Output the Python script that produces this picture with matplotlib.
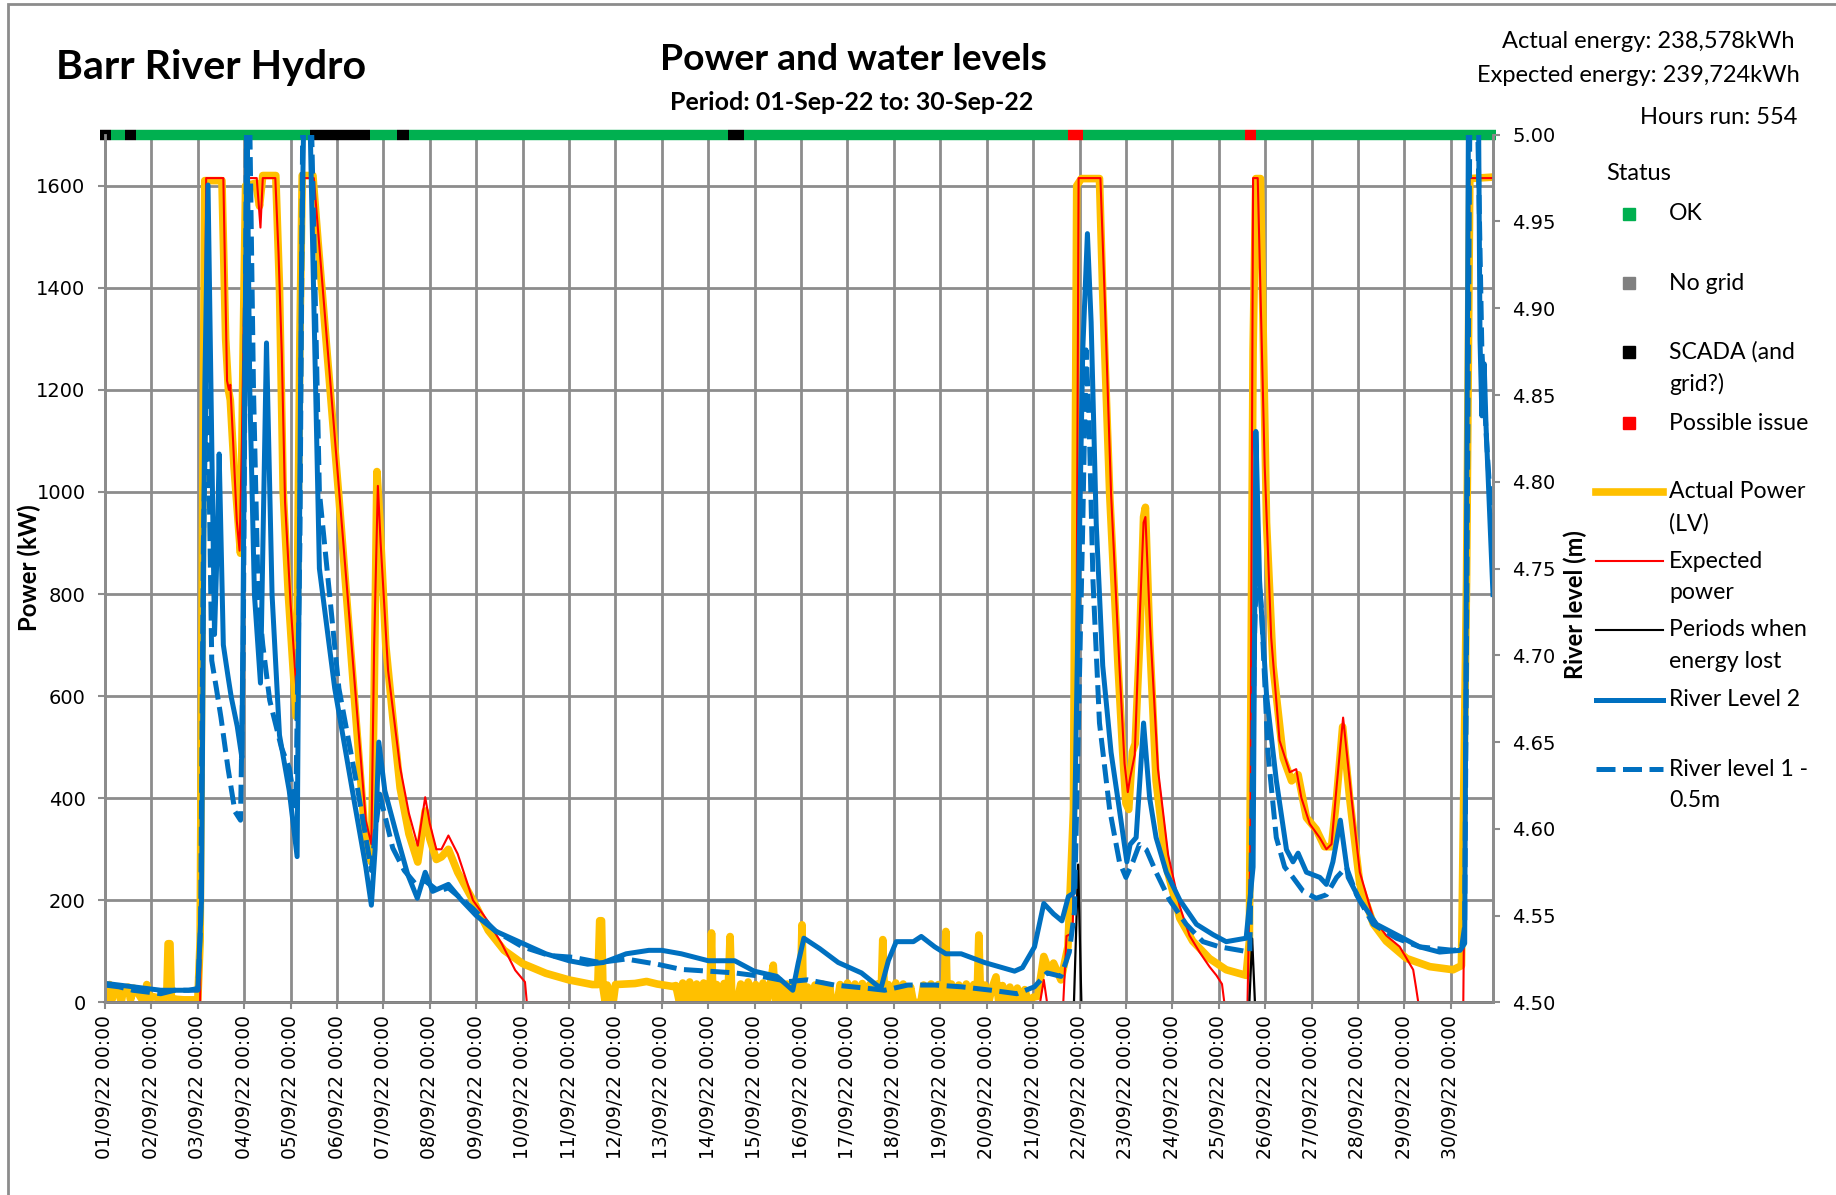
import numpy as np
import matplotlib
matplotlib.use('Agg')
import matplotlib.pyplot as plt
from matplotlib.lines import Line2D
from matplotlib.patches import Rectangle

# time axis: days since 01/09/22 00:00
day_labels = ['%02d/09/22 00:00' % d for d in range(1, 31)]
x_end = 29.91

# Actual power (LV), kW
t_act = [0.00, 0.05, 0.10, 0.15, 0.20, 0.28, 0.35, 0.40, 0.50, 0.55, 0.62, 0.70, 0.78, 0.85, 0.90, 0.95,
         1.00, 1.10, 1.20, 1.33, 1.36, 1.40, 1.43, 1.55, 1.70, 1.85, 2.00, 2.05, 2.10, 2.15, 2.52, 2.60,
         2.66, 2.70, 2.78, 2.92, 2.98, 3.03, 3.25, 3.33, 3.40, 3.68, 3.76, 3.84, 3.95, 4.12, 4.20, 4.25,
         4.48, 4.60, 5.04, 5.60, 5.74, 5.80, 5.86, 5.92, 6.05, 6.20, 6.36, 6.55, 6.74, 6.90, 7.00, 7.14,
         7.25, 7.40, 7.60, 7.93, 8.26, 8.60, 9.00, 9.50, 10.00, 10.50, 10.62, 10.66, 10.70, 10.73, 10.78,
         10.82, 10.95, 11.00, 11.42, 11.67, 11.90, 12.25,
         12.30, 12.38, 12.45, 12.52, 12.60, 12.68, 12.75, 12.83, 12.90, 12.98, 13.04, 13.07, 13.10, 13.18,
         13.26, 13.34, 13.42, 13.47, 13.51, 13.62, 13.70, 13.78, 13.86, 13.94, 14.02, 14.10, 14.18, 14.26,
         14.34, 14.40, 14.45, 14.54, 14.62, 14.70, 14.78, 14.86, 14.94, 14.99, 15.02, 15.05, 15.14, 15.22,
         15.30, 15.38, 15.46, 15.54, 15.62, 15.66, 15.78, 15.84, 15.92, 16.00, 16.08, 16.16, 16.24, 16.32,
         16.40, 16.48, 16.56, 16.64, 16.72, 16.76, 16.80, 16.88, 16.96, 17.04, 17.12, 17.20, 17.28, 17.36,
         17.42, 17.58, 17.64, 17.72, 17.80, 17.88, 17.96, 18.04, 18.09, 18.12, 18.15, 18.24, 18.32, 18.40,
         18.48, 18.56, 18.64, 18.72, 18.79, 18.83, 18.87, 18.96, 19.04, 19.12, 19.20, 19.26, 19.34, 19.42,
         19.50, 19.58, 19.66, 19.74, 19.82, 19.90,
         20.00, 20.10, 20.23, 20.35, 20.44, 20.60, 20.75, 20.87, 20.94, 21.04, 21.43, 21.50, 21.65, 21.83,
         21.93, 22.00, 22.06, 22.14, 22.20, 22.30, 22.38, 22.42, 22.51, 22.65, 22.87, 23.16, 23.44, 23.80,
         24.16, 24.59, 24.66, 24.74, 24.80, 24.90, 25.03, 25.17, 25.39, 25.57, 25.71, 25.89, 26.10, 26.28,
         26.43, 26.54, 26.67, 26.82, 27.04, 27.33, 27.61, 28.05, 28.55, 29.05, 29.23, 29.34, 29.41, 29.91]
p_act = [30, 10, 35, 5, 30, 25, 0, 28, 30, 5, 28, 20, 8, 0, 35, 5,
         12, 10, 8, 10, 115, 115, 8, 6, 5, 5, 5, 120, 900, 1610, 1610, 1300,
         1200, 1180, 1050, 880, 1300, 1600, 1605, 1560, 1620, 1620, 1400, 1000, 800, 560, 1300, 1620,
         1620, 1480, 990, 330, 275, 600, 1040, 950, 700, 560, 420, 330, 275, 375, 320, 280,
         285, 300, 255, 200, 141, 102, 76, 57, 44, 35, 35, 160, 160, 30, 0,
         34, 0, 35, 37, 41, 36, 31,
         33, 0, 38, 0, 40, 0, 36, 0, 38, 0, 30, 136, 0, 35,
         0, 37, 0, 129, 0, 0, 36, 0, 40, 0, 35, 0, 38, 0,
         36, 73, 0, 34, 0, 36, 0, 35, 0, 40, 152, 0, 30, 0,
         34, 0, 36, 0, 30, 0, 0, 35, 0, 38, 0, 36, 0, 37,
         0, 35, 0, 36, 0, 123, 0, 35, 0, 38, 0, 36, 0, 30,
         0, 0, 34, 0, 36, 0, 35, 0, 30, 139, 0, 36, 0, 34,
         0, 36, 0, 35, 0, 132, 0, 34, 0, 30, 50, 0, 33, 0,
         30, 0, 28, 0, 25, 0,
         10, 12, 90, 60, 77, 44, 109, 378, 1600, 1614, 1614, 1389, 996, 659,
         491, 390, 378, 491, 507, 715, 951, 970, 715, 434, 266, 165, 120, 86,
         64, 53, 120, 1277, 1614, 1614, 940, 659, 479, 434, 446, 362, 339, 305,
         305, 401, 540, 401, 232, 154, 120, 86, 70, 64, 72, 827, 1614, 1617]

# Expected power, kW
t_exp = [0.00, 2.05, 2.12, 2.18, 2.55, 2.63, 2.67, 2.70, 2.76, 2.84, 2.90, 2.95, 3.00, 3.06, 3.27, 3.35,
         3.40, 3.67, 3.74, 3.81, 3.88, 4.00, 4.13, 4.18, 4.24, 4.28, 4.50, 5.04, 5.62, 5.74, 5.80, 5.88,
         5.94, 6.10, 6.36, 6.55, 6.74, 6.90, 7.00, 7.14, 7.25, 7.40, 7.60, 7.93, 8.26, 8.55, 8.84, 9.05,
         9.09, 20.15, 20.23, 20.30, 20.65, 20.72, 20.85, 20.92, 20.96, 20.98, 21.45, 21.54, 21.68, 21.86,
         21.97, 22.04, 22.09, 22.19, 22.28, 22.38, 22.42, 22.52, 22.69, 22.91, 23.16, 23.37, 23.59, 23.80,
         23.95, 24.07, 24.12, 24.62, 24.68, 24.74, 24.84, 24.99, 25.13, 25.31, 25.53, 25.67, 25.78, 25.96,
         26.18, 26.32, 26.43, 26.54, 26.68, 26.86, 27.04, 27.33, 27.61, 27.90, 28.19, 28.25, 28.30, 29.27,
         29.34, 29.40, 29.91]
p_exp = [0, 0, 800, 1615, 1615, 1218, 1200, 1210, 1100, 943, 885, 1100, 1400, 1615, 1615, 1518,
         1615, 1615, 1466, 1270, 980, 780, 605, 900, 1500, 1615, 1615, 1008, 356, 310, 700, 1012,
         900, 650, 460, 370, 307, 402, 350, 300, 300, 327, 291, 200, 158, 115, 63, 40,
         0, 0, 44, 0, 0, 130, 136, 400, 1200, 1615, 1615, 1389, 996, 659,
         468, 412, 440, 485, 715, 940, 951, 738, 457, 289, 188, 131, 98, 70,
         53, 36, 0, 0, 300, 1615, 1615, 1052, 715, 513, 451, 457, 401, 350,
         322, 300, 310, 423, 558, 401, 255, 165, 131, 109, 64, 30, 0, 0,
         700, 1615, 1615]

# Periods when energy lost, kW
t_lost = [0.00, 20.88, 20.97, 21.04, 24.66, 24.72, 24.78, x_end]
p_lost = [0, 0, 270, 0, 0, 125, 0, 0]

# River Level 2, m
t_rl2 = [0.00, 0.30, 0.60, 0.90, 1.20, 1.50, 1.80, 2.00, 2.08, 2.15, 2.22, 2.30, 2.36, 2.42, 2.46, 2.55,
         2.65, 2.72, 2.85, 2.95, 3.02, 3.06, 3.12, 3.22, 3.35, 3.48, 3.60, 3.76, 3.97, 4.14, 4.23, 4.28,
         4.42, 4.62, 4.95, 5.37, 5.62, 5.74, 5.82, 5.90, 6.03, 6.28, 6.52, 6.73, 6.90, 7.06, 7.40, 7.68,
         8.00, 8.42, 9.00, 9.50, 10.00, 10.40, 10.74, 11.23, 11.72, 12.00, 12.42, 13.00, 13.57, 13.99,
         14.48, 14.82, 14.94, 15.06, 15.40, 15.80, 16.30, 16.72, 16.88, 17.05, 17.42, 17.59, 17.88, 18.12,
         18.45, 18.95, 19.60, 19.77, 20.03, 20.23, 20.44, 20.62, 20.76, 20.87, 20.96, 21.07, 21.17, 21.25,
         21.36, 21.50, 21.68, 21.86, 22.02, 22.09, 22.22, 22.38, 22.51, 22.65, 22.87, 23.16, 23.52, 23.88,
         24.16, 24.59, 24.74, 24.80, 24.88, 25.03, 25.24, 25.46, 25.60, 25.71, 25.89, 26.18, 26.32, 26.46,
         26.62, 26.79, 27.04, 27.40, 27.83, 28.33, 28.76, 29.20, 29.30, 29.38, 29.60, 29.63, 29.67, 29.72,
         29.76, 29.91]
rl2 = [4.511, 4.510, 4.509, 4.508, 4.507, 4.507, 4.507, 4.508, 4.559, 4.853, 4.971, 4.824, 4.712, 4.765,
       4.816, 4.706, 4.688, 4.676, 4.659, 4.641, 4.882, 5.006, 4.853, 4.735, 4.684, 4.880, 4.735, 4.654,
       4.622, 4.584, 4.912, 5.006, 5.006, 4.750, 4.681, 4.616, 4.578, 4.556, 4.588, 4.650, 4.622, 4.597,
       4.574, 4.560, 4.575, 4.564, 4.568, 4.559, 4.550, 4.541, 4.534, 4.528, 4.524, 4.522, 4.523, 4.528,
       4.530, 4.530, 4.528, 4.524, 4.524, 4.518, 4.515, 4.507, 4.523, 4.537, 4.531, 4.523, 4.517, 4.508,
       4.524, 4.535, 4.535, 4.538, 4.532, 4.528, 4.528, 4.523, 4.518, 4.520, 4.532, 4.557, 4.551, 4.547,
       4.561, 4.563, 4.710, 4.876, 4.943, 4.892, 4.776, 4.694, 4.644, 4.611, 4.581, 4.591, 4.595, 4.661,
       4.618, 4.595, 4.575, 4.559, 4.545, 4.539, 4.535, 4.537, 4.578, 4.829, 4.743, 4.677, 4.628, 4.588,
       4.581, 4.586, 4.575, 4.572, 4.568, 4.581, 4.605, 4.572, 4.559, 4.545, 4.539, 4.532, 4.529, 4.530,
       4.534, 5.006, 5.006, 4.882, 4.838, 4.868, 4.832, 4.735]

# River level 1 - 0.5m, m
t_rl1 = [0.00, 0.30, 0.60, 0.90, 1.20, 1.50, 2.00, 2.06, 2.12, 2.20, 2.30, 2.40, 2.50, 2.65, 2.80, 2.92,
         2.98, 3.05, 3.12, 3.20, 3.30, 3.40, 3.55, 3.80, 3.97, 4.11, 4.20, 4.26, 4.45, 4.62, 5.04, 5.45,
         5.74, 5.82, 5.92, 6.20, 6.45, 6.70, 6.90, 7.19, 7.40, 7.93, 8.42, 9.00, 9.58, 10.08, 10.66, 11.23,
         11.90, 12.42, 13.00, 13.57, 14.15, 14.73, 15.14, 15.72, 16.47, 16.80, 17.30, 17.88, 18.45, 19.10,
         19.65, 20.03, 20.30, 20.60, 20.78, 20.89, 20.99, 21.07, 21.14, 21.20, 21.29, 21.43, 21.65, 21.86,
         22.00, 22.15, 22.29, 22.44, 22.65, 22.94, 23.30, 23.66, 24.02, 24.67, 24.77, 24.82, 24.92, 25.06,
         25.24, 25.42, 25.60, 25.82, 26.10, 26.32, 26.54, 26.75, 26.97, 27.33, 27.83, 28.33, 29.05, 29.23,
         29.30, 29.41, 29.58, 29.67, 29.77, 29.91]
rl1 = [4.510, 4.509, 4.507, 4.506, 4.505, 4.507, 4.507, 4.544, 4.765, 4.882, 4.697, 4.681, 4.664, 4.635,
       4.610, 4.605, 4.706, 5.006, 5.006, 4.853, 4.735, 4.706, 4.674, 4.647, 4.635, 4.612, 4.765, 5.006,
       5.006, 4.794, 4.681, 4.622, 4.576, 4.597, 4.620, 4.589, 4.576, 4.568, 4.570, 4.564, 4.566, 4.554,
       4.541, 4.532, 4.527, 4.526, 4.523, 4.525, 4.522, 4.519, 4.518, 4.517, 4.515, 4.512, 4.513, 4.510,
       4.508, 4.507, 4.510, 4.510, 4.509, 4.507, 4.505, 4.509, 4.517, 4.515, 4.529, 4.552, 4.677, 4.776,
       4.876, 4.842, 4.743, 4.661, 4.611, 4.581, 4.572, 4.581, 4.591, 4.588, 4.575, 4.559, 4.545, 4.535,
       4.532, 4.529, 4.710, 4.756, 4.727, 4.644, 4.595, 4.578, 4.572, 4.564, 4.560, 4.562, 4.572, 4.578,
       4.562, 4.545, 4.537, 4.532, 4.530, 4.531, 4.544, 5.006, 5.006, 4.876, 4.824, 4.765]

# status strip along the top
status_start = [-0.11, 0.12, 0.43, 0.67, 4.42, 5.71, 6.30, 6.56, 13.43, 13.76, 20.75, 21.08, 24.57, 24.81]
status_end = [0.12, 0.43, 0.67, 4.42, 5.71, 6.30, 6.56, 13.43, 13.76, 20.75, 21.08, 24.57, 24.81, 29.98]
status_code = ['SCADA', 'OK', 'SCADA', 'OK', 'SCADA', 'OK', 'SCADA', 'OK', 'SCADA', 'OK',
               'Possible issue', 'OK', 'Possible issue', 'OK']
status_colors = {'OK': '#00B050', 'No grid': '#808080', 'SCADA': '#000000', 'Possible issue': '#FF0000'}

W, H = 1836, 1195
def fx(px):
    return px / W
def fy(py):
    return 1 - py / H

TITLE_FONT = 'Lato'
grid_col = '#8c8c8c'
DASH = (3.8, 1.5)

fig = plt.figure(figsize=(W / 100, H / 100), dpi=100)
ax = fig.add_axes([fx(105), fy(1002.4), fx(1493 - 105), (1002.4 - 134.7) / H])
ax2 = ax.twinx()

ax.plot(t_act, p_act, color='#FFC000', lw=5.5, solid_joinstyle='round', zorder=2)
ax.plot(t_exp, p_exp, color='#FF0000', lw=1.5, zorder=3)
ax.plot(t_lost, p_lost, color='black', lw=1.6, zorder=4, clip_on=False)

# status strip (drawn at the top of the power axis)
order = sorted(range(len(status_code)), key=lambda i: status_code[i] != 'OK')
for i in order:
    ax.hlines(1700, status_start[i], status_end[i], colors=status_colors[status_code[i]],
              lw=7.5, zorder=6, clip_on=False)

ax2.plot(t_rl2, rl2, color='#0070C0', lw=3.6, solid_joinstyle='round')
ax2.plot(t_rl1, rl1, color='#0070C0', lw=3.6, dashes=DASH)

ax.set_xlim(0, x_end)
ax.set_ylim(0, 1700)
ax2.set_ylim(4.5, 5.0)
ax.set_xticks(range(30))
ax.set_xticklabels(day_labels, rotation=90, fontsize=13.5, va='top')
ax.set_yticks(range(0, 1700, 200))
ax2.set_yticks(np.arange(4.5, 5.001, 0.05))
ax2.set_yticklabels(['%.2f' % v for v in np.arange(4.5, 5.001, 0.05)])

ax.grid(True, color=grid_col, lw=2)
ax.set_axisbelow(True)
ax.tick_params(axis='x', length=5, width=1.5, color=grid_col, pad=4)
ax.tick_params(axis='y', length=5, width=1.5, color=grid_col, labelsize=14, pad=9)
ax2.tick_params(axis='y', length=5, width=1.5, color=grid_col, labelsize=14, pad=9)
for a in (ax, ax2):
    for s in a.spines.values():
        s.set_color(grid_col)
        s.set_linewidth(2)
    a.spines['top'].set_visible(False)

fig.text(fx(29), fy(568), 'Power (kW)', rotation=90, ha='center', va='center',
         fontsize=17.3, fontweight='bold', family=TITLE_FONT)
fig.text(fx(1575), fy(605), 'River level (m)', rotation=90, ha='center', va='center',
         fontsize=17, fontweight='bold', family=TITLE_FONT)

# titles
fig.text(fx(56), fy(68), 'Barr River Hydro', ha='left', va='center', fontsize=29.6,
         fontweight='bold', family=TITLE_FONT)
fig.text(fx(853), fy(60), 'Power and water levels', ha='center', va='center', fontsize=26.8,
         fontweight='bold', family=TITLE_FONT)
fig.text(fx(852), fy(103), 'Period: 01-Sep-22 to: 30-Sep-22', ha='center', va='center', fontsize=18,
         fontweight='bold', family=TITLE_FONT)
fig.text(fx(1794), fy(42), 'Actual energy: 238,578kWh', ha='right', va='center', fontsize=17,
         family=TITLE_FONT)
fig.text(fx(1800), fy(76), 'Expected energy: 239,724kWh', ha='right', va='center', fontsize=17,
         family=TITLE_FONT)
fig.text(fx(1797), fy(117), 'Hours run: 554', ha='right', va='center', fontsize=17,
         family=TITLE_FONT)

# legend
fig.text(fx(1606), fy(174), 'Status', ha='left', va='center', fontsize=17, family=TITLE_FONT)
legend_rows = [
    ('OK', 'marker', status_colors['OK'], 214),
    ('No grid', 'marker', status_colors['No grid'], 283),
    ('SCADA (and\ngrid?)', 'marker', status_colors['SCADA'], 352),
    ('Possible issue', 'marker', status_colors['Possible issue'], 423),
    ('Actual Power\n(LV)', 'yellow', '#FFC000', 492),
    ('Expected\npower', 'red', '#FF0000', 561),
    ('Periods when\nenergy lost', 'black', '#000000', 630),
    ('River Level 2', 'solid', '#0070C0', 700),
    ('River level 1 -\n0.5m', 'dashed', '#0070C0', 769),
]
for label, kind, col, row_y in legend_rows:
    for k, line in enumerate(label.split('\n')):
        fig.text(fx(1669), fy(row_y + 31.6 * k), line, ha='left', va='center', fontsize=16.6,
                 family=TITLE_FONT)
    if kind == 'marker':
        fig.add_artist(Line2D([fx(1629)], [fy(row_y)], marker='s', ms=8, color=col, lw=0,
                              transform=fig.transFigure))
    else:
        lw = {'yellow': 5.5, 'red': 1.5, 'black': 1.5, 'solid': 3.6, 'dashed': 3.6}[kind]
        ln = Line2D([fx(1596), fx(1663)], [fy(row_y), fy(row_y)], color=col, lw=lw,
                    transform=fig.transFigure)
        if kind == 'dashed':
            ln.set_dashes(DASH)
        fig.add_artist(ln)

# chart border
fig.add_artist(Rectangle((fx(8), -0.01), 1.0, fy(4) + 0.01, transform=fig.transFigure,
                         fill=False, edgecolor=grid_col, lw=2))

fig.savefig('out.png', dpi=100)
